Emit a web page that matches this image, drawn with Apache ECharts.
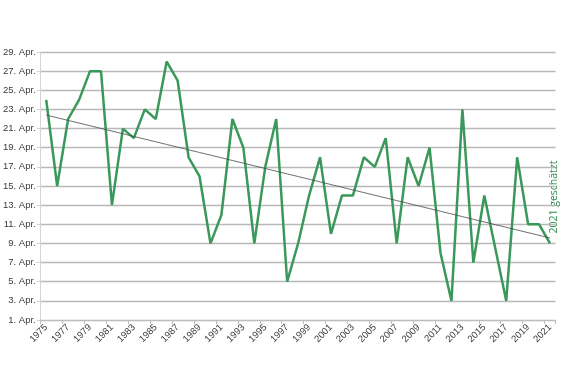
<!DOCTYPE html>
<html><head><meta charset="utf-8">
<script src="https://cdn.jsdelivr.net/npm/echarts@6/dist/echarts.min.js"></script>
<style>html,body{margin:0;padding:0;background:#fff}#c{width:562px;height:374px}</style>
</head><body><div id="c"></div>
<script>
const years = [];
for (let y = 1975; y <= 2021; y++) years.push(String(y));
// Tag im April
const days = [24,15,22,24,27,27,13,21,20,23,22,28,26,18,16,9,12,22,19,9,17,22,5,9,14,18,10,14,14,18,17,20,9,18,15,19,8,3,23,7,14,8.5,3,18,11,11,9];
const noteText = '2021 geschätzt';

// linear trend (least squares)
const n = days.length;
let sx=0, sy=0, sxy=0, sxx=0;
days.forEach((v,i)=>{sx+=i;sy+=v;sxy+=i*v;sxx+=i*i;});
const slope = (n*sxy - sx*sy)/(n*sxx - sx*sx);
const icpt = (sy - slope*sx)/n;
const trend = days.map((v,i)=> +(icpt + slope*i).toFixed(3));

const chart = echarts.init(document.getElementById('c'), null, {renderer:'canvas'});
chart.setOption({
  animation:false,
  grid:{left:38.5,right:6.5,top:52,bottom:54,containLabel:false},
  xAxis:{type:'category',data:years,boundaryGap:true,
    axisLine:{lineStyle:{color:'#bdbdbd',width:1}},
    axisTick:{show:true,interval:1,length:4,lineStyle:{color:'#bdbdbd'}},
    axisLabel:{interval:1,rotate:45,fontSize:9.5,color:'#3a3a3a',fontFamily:'Liberation Sans, Arial, sans-serif',margin:6},
    splitLine:{show:false}},
  yAxis:{type:'value',min:1,max:29,interval:2,
    axisLine:{show:true,lineStyle:{color:'#d4d4d4',width:1}},
    axisTick:{show:true,length:4,lineStyle:{color:'#d4d4d4'}},
    axisLabel:{fontSize:9.5,color:'#3a3a3a',fontFamily:'Liberation Sans, Arial, sans-serif',margin:5,
      formatter:v=>v+'. Apr.'},
    splitLine:{show:true,lineStyle:{color:'#b8b8b8',width:1.3}}},
  series:[
    {type:'line',data:days,symbol:'none',lineStyle:{color:'#3a985a',width:2.5},z:3},
    {type:'line',data:trend,symbol:'none',lineStyle:{color:'#4a4a4a',width:0.8},z:4}
  ],
  graphic:[{type:'text',x:554,y:197,rotation:Math.PI/2,
    style:{text:noteText,fill:'#2f8c50',fontSize:10.5,fontFamily:'Open Sans, Liberation Sans, sans-serif',align:'center',verticalAlign:'middle'}}]
});
</script></body></html>
